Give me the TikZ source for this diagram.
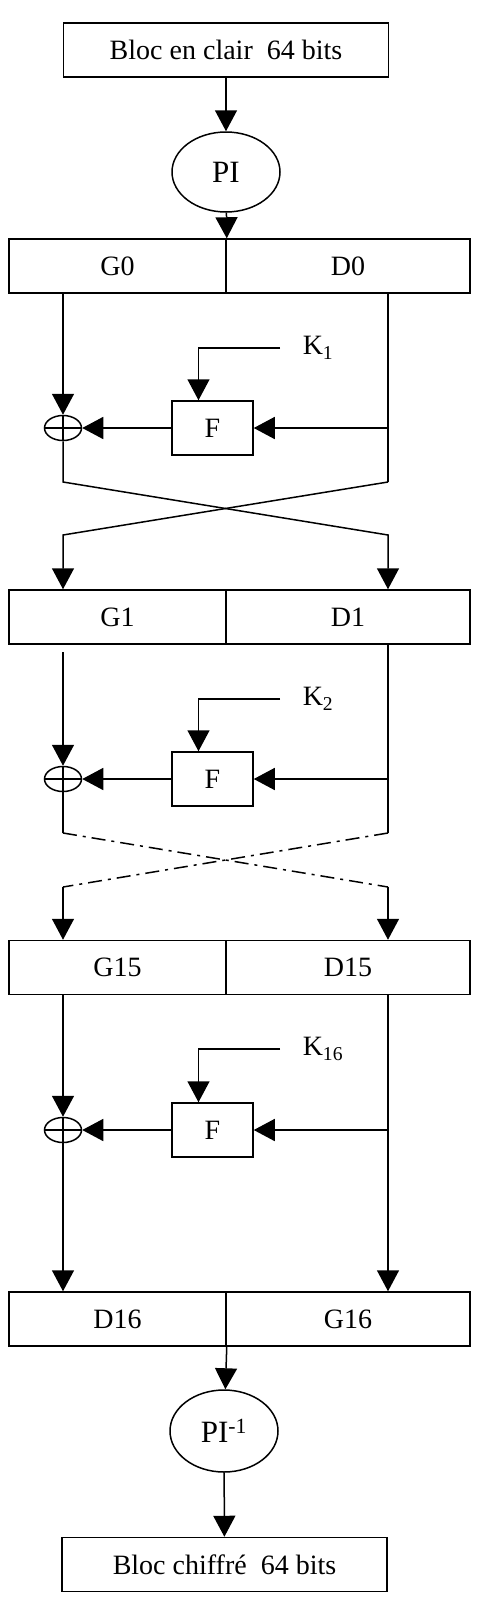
\documentclass[tikz,border=0pt]{standalone}
\usepackage{fontspec}
\setmainfont{Liberation Serif}
\usetikzlibrary{shapes.geometric,arrows.meta}
\tikzstyle{every node}=[font=\fontsize{28}{31}\selectfont, inner sep=0pt]
\tikzstyle{block}=[draw, minimum width=325pt, minimum height=54pt]
\tikzstyle{lhalf}=[draw, minimum width=217pt, minimum height=54pt]
\tikzstyle{rhalf}=[draw, minimum width=244pt, minimum height=54pt]
\tikzstyle{perm}=[draw, ellipse, minimum width=108pt, minimum height=80pt, font=\fontsize{31}{34}\selectfont]
\tikzstyle{func}=[draw, minimum width=81pt, minimum height=54pt]
\tikzstyle{xor}=[draw, ellipse, minimum width=37pt, minimum height=25pt,
  path picture={\draw (path picture bounding box.west) -- (path picture bounding box.east);
                \draw (path picture bounding box.north) -- (path picture bounding box.south);}]
\tikzstyle{key}=[anchor=west]
\tikzstyle{swap}=[dash pattern=on 14pt off 6pt on 3pt off 6pt]

\begin{document}
\begin{tikzpicture}[x=1pt, y=-1pt, line width=1.5pt, >={Triangle[length=21pt,width=22pt]}]
\useasboundingbox (0,0) rectangle (478,1598);
% Input and initial permutation
    \node[block] (in) at (226,50) {Bloc en clair\ \ 64 bits};
    \node[perm] (pi) at (226,172) {PI};
    \node[lhalf] (g0) at (117.5,266) {G0};
    \node[rhalf] (d0) at (348,266) {D0};
    \draw[->] (in) -- (pi);
    \draw[->] (pi) -- (g0.north east);
% Round 1
    \node[func] (f1) at (212.5,428) {F};
    \node[xor] (x1) at (63,428) {};
    \node[key] (k1) at (302,348) {K\textsubscript{1}};
    \coordinate (a1) at (63,482);
    \coordinate (b1) at (388,482);
    \coordinate (c1) at (63,535);
    \coordinate (e1) at (388,535);
    \node[lhalf] (g1) at (117.5,617) {G1};
    \node[rhalf] (d1) at (348,617) {D1};
    \draw[->] (g0.south -| x1) -- (x1.north);
    \draw[->] ([xshift=-22pt]k1.west) -| ([xshift=-14pt]f1.north);
    \draw[->] (f1.west) -- (x1.east);
    \draw (d0.south -| b1) -- (b1);
    \draw[->] (f1.east -| b1) -- (f1.east);
    \draw[->] (x1.south) -- (a1) -- (e1) -- (d1.north -| e1);
    \draw[->] (b1) -- (c1) -- (g1.north -| c1);
% Round 2
    \node[func] (f2) at (212.5,779) {F};
    \node[xor] (x2) at (63,779) {};
    \node[key] (k2) at (302,699) {K\textsubscript{2}};
    \coordinate (t2) at (63,652);
    \coordinate (a2) at (63,833);
    \coordinate (b2) at (388,833);
    \coordinate (c2) at (63,887);
    \coordinate (e2) at (388,887);
    \node[lhalf] (g15) at (117.5,967.5) {G15};
    \node[rhalf] (d15) at (348,967.5) {D15};
    \draw[->] (t2) -- (x2.north);
    \draw[->] ([xshift=-22pt]k2.west) -| ([xshift=-14pt]f2.north);
    \draw[->] (f2.west) -- (x2.east);
    \draw (d1.south -| b2) -- (b2);
    \draw[->] (f2.east -| b2) -- (f2.east);
    \draw (x2.south) -- (a2);
    \draw[swap] (a2) -- (e2);
    \draw[swap] (b2) -- (c2);
    \draw[->] (e2) -- (d15.north -| e2);
    \draw[->] (c2) -- (g15.north -| c2);
% Round 16
    \node[func] (f16) at (212.5,1130) {F};
    \node[xor] (x16) at (63,1130) {};
    \node[key] (k16) at (302,1049) {K\textsubscript{16}};
    \node[lhalf] (d16) at (117.5,1319) {D16};
    \node[rhalf] (g16) at (348,1319) {G16};
    \coordinate (b16) at (388,1130);
    \draw[->] (g15.south -| x16) -- (x16.north);
    \draw[->] ([xshift=-22pt]k16.west) -| ([xshift=-14pt]f16.north);
    \draw[->] (f16.west) -- (x16.east);
    \draw[->] (b16) -- (f16.east);
    \draw[->] (d15.south -| b16) -- (g16.north -| b16);
    \draw[->] (x16.south) -- (d16.north -| x16);
% Final permutation and output
    \node[perm, minimum height=82pt] (pi2) at (224,1431) {PI\textsuperscript{-1}};
    \node[block] (out) at (224.5,1564.5) {Bloc chiffré\ \ 64 bits};
    \draw[->] (d16.south east) -- (pi2);
    \draw[->] (pi2) -- (out);
\end{tikzpicture}
\end{document}
